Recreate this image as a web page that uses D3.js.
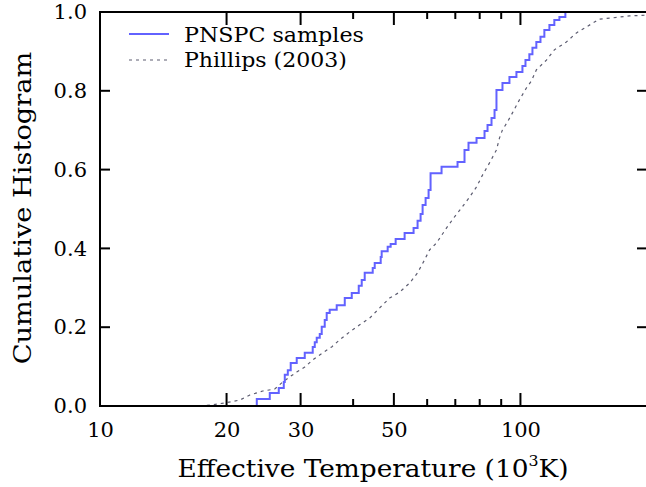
<!DOCTYPE html>
<html><head><meta charset="utf-8">
<script src="https://cdn.jsdelivr.net/npm/d3@7"></script>
<style>body{margin:0;background:#fff}svg{display:block}text{font-family:"DejaVu Serif",serif;fill:#000}</style>
</head><body><svg id="c" width="646" height="487"></svg>
<script>
// PNSPC samples: empirical CDF steps (temperature in 10^3 K, cumulative fraction after step)
const pnspcT = [23.6,25.34,26.62,27.36,27.51,27.97,28.42,29.37,30.69,32.06,32.42,32.77,33.32,33.68,34.24,34.61,35.18,36.56,38.21,39.70,41.25,41.93,42.62,44.53,45.02,46.52,46.77,48.33,49.13,50.49,53.03,55.70,56.93,57.88,58.52,59.49,60.47,61.13,64.92,70.86,73.62,75.25,78.63,82.15,83.51,85.35,86.78,87.70,90.63,94.16,97.83,101.1,102.8,105.0,106.8,109.1,111.6,114.0,117.2,120.4,123.8,127.9];
const pnspcF = [0.018,0.033,0.046,0.061,0.079,0.091,0.109,0.122,0.135,0.150,0.162,0.173,0.183,0.201,0.218,0.236,0.244,0.256,0.274,0.287,0.305,0.320,0.338,0.350,0.363,0.378,0.393,0.404,0.411,0.424,0.439,0.452,0.470,0.487,0.510,0.528,0.548,0.591,0.607,0.619,0.650,0.668,0.680,0.698,0.713,0.731,0.751,0.802,0.820,0.835,0.848,0.863,0.878,0.893,0.909,0.924,0.937,0.954,0.967,0.980,0.987,1.0];
// Phillips (2003) cumulative distribution
const phillipsT = [17.28,18.55,19.81,21.50,22.72,24.39,26.04,27.21,28.27,29.37,30.69,32.06,33.86,35.57,37.16,39.25,41.46,43.79,46.26,48.85,51.60,54.51,56.93,59.16,60.79,63.17,66.73,69.70,72.82,75.67,78.63,81.24,84.42,87.70,89.15,90.63,93.14,95.72,99.45,103.3,106.2,109.1,115.3,120.4,128.6,135.9,143.5,154.0,165.4,181.5,200];
const phillipsF = [0,0.003,0.008,0.015,0.028,0.038,0.043,0.061,0.074,0.086,0.099,0.117,0.135,0.150,0.168,0.188,0.206,0.223,0.249,0.274,0.289,0.312,0.338,0.371,0.396,0.414,0.452,0.480,0.506,0.530,0.556,0.586,0.617,0.650,0.680,0.701,0.721,0.744,0.777,0.807,0.825,0.853,0.878,0.904,0.924,0.947,0.962,0.982,0.985,0.990,0.992];
const xTickMajor = [10,20,30,50,100];
const xTickMinor = [40,60,70,80,90];
const yTicks = [0,0.2,0.4,0.6,0.8,1.0];
const seriesNames = ["PNSPC samples","Phillips (2003)"];

const svg = d3.select("#c");
const L=100,R=647,T=12,B=406;
const x = d3.scaleLog().domain([10,200]).range([L,R]);
const y = d3.scaleLinear().domain([0,1]).range([B,T]);

// stretch a text element horizontally to a target width
function stretch(sel, target, ax, ay, rotate){
  const w = sel.node().getComputedTextLength();
  const s = target / w;
  sel.attr("transform", rotate
    ? `translate(${ax},${ay}) rotate(-90) scale(${s},1)`
    : `translate(${ax},${ay}) scale(${s},1)`);
}

const plot = svg.append("g");
plot.append("clipPath").attr("id","clip").append("rect").attr("x",L).attr("y",T-2).attr("width",R-L).attr("height",B-T+4);

// Phillips dashed
const phil = phillipsT.map((t,i)=>[t,phillipsF[i]]);
plot.append("path").attr("clip-path","url(#clip)").datum(phil)
  .attr("d",d3.line().x(d=>x(d[0])).y(d=>y(d[1])))
  .attr("fill","none").attr("stroke","#5c5c70").attr("stroke-width",1.2).attr("stroke-dasharray","3,4");

// PNSPC steps
const pn = [[pnspcT[0],0]].concat(pnspcT.map((t,i)=>[t,pnspcF[i]])).concat([[200,1.0]]);
plot.append("path").attr("clip-path","url(#clip)").datum(pn)
  .attr("d",d3.line().curve(d3.curveStepAfter).x(d=>x(d[0])).y(d=>y(d[1])))
  .attr("fill","none").attr("stroke","#6262ff").attr("stroke-width",2);

// Frame
svg.append("rect").attr("x",L).attr("y",T).attr("width",R-L).attr("height",B-T)
  .attr("fill","none").attr("stroke","#000").attr("stroke-width",2);

// X axis bottom
const xb = svg.append("g").attr("transform",`translate(0,${B})`);
xb.call(d3.axisBottom(x).tickValues(xTickMajor).tickSize(0).tickPadding(16).tickFormat(d3.format("d")));
xb.select(".domain").remove();
xb.selectAll("text").attr("font-size",21).attr("font-family","DejaVu Serif");
const tickG = svg.append("g").attr("stroke","#000").attr("stroke-width",2);
xTickMajor.concat(xTickMinor).forEach(v=>{
  const len = xTickMajor.includes(v)?13:7;
  tickG.append("line").attr("x1",x(v)).attr("x2",x(v)).attr("y1",B).attr("y2",B-len);
  tickG.append("line").attr("x1",x(v)).attr("x2",x(v)).attr("y1",T).attr("y2",T+len);
});
// Y axis
const yl = svg.append("g").attr("transform",`translate(${L},0)`);
yl.call(d3.axisLeft(y).tickValues(yTicks).tickSize(0).tickPadding(13).tickFormat(d3.format(".1f")));
yl.select(".domain").remove();
yl.selectAll("text").attr("font-size",21).attr("font-family","DejaVu Serif");
yTicks.forEach(v=>{
  tickG.append("line").attr("x1",L).attr("x2",L+10).attr("y1",y(v)).attr("y2",y(v));
  tickG.append("line").attr("x1",R).attr("x2",R-10).attr("y1",y(v)).attr("y2",y(v));
});

// Axis labels
const xl = svg.append("text").attr("text-anchor","middle").attr("font-size",25);
xl.append("tspan").text("Effective Temperature (10");
xl.append("tspan").attr("font-size",15).attr("dy",-11).text("3");
xl.append("tspan").attr("dy",11).text("K)");
stretch(xl, 391, 373, 477, false);
const ylab = svg.append("text").attr("text-anchor","middle").attr("font-size",25).text("Cumulative Histogram");
stretch(ylab, 313, 31, 208, true);

// Legend
const lg = svg.append("g");
lg.append("line").attr("x1",129).attr("x2",169).attr("y1",34).attr("y2",34).attr("stroke","#6262ff").attr("stroke-width",2);
lg.append("line").attr("x1",129).attr("x2",169).attr("y1",60).attr("y2",60).attr("stroke","#5c5c70").attr("stroke-width",1.2).attr("stroke-dasharray","3,4");
const t1 = lg.append("text").attr("font-size",21).text(seriesNames[0]);
stretch(t1, 180, 184, 42, false);
const t2 = lg.append("text").attr("font-size",21).text(seriesNames[1]);
stretch(t2, 163, 184, 67, false);
</script></body></html>
